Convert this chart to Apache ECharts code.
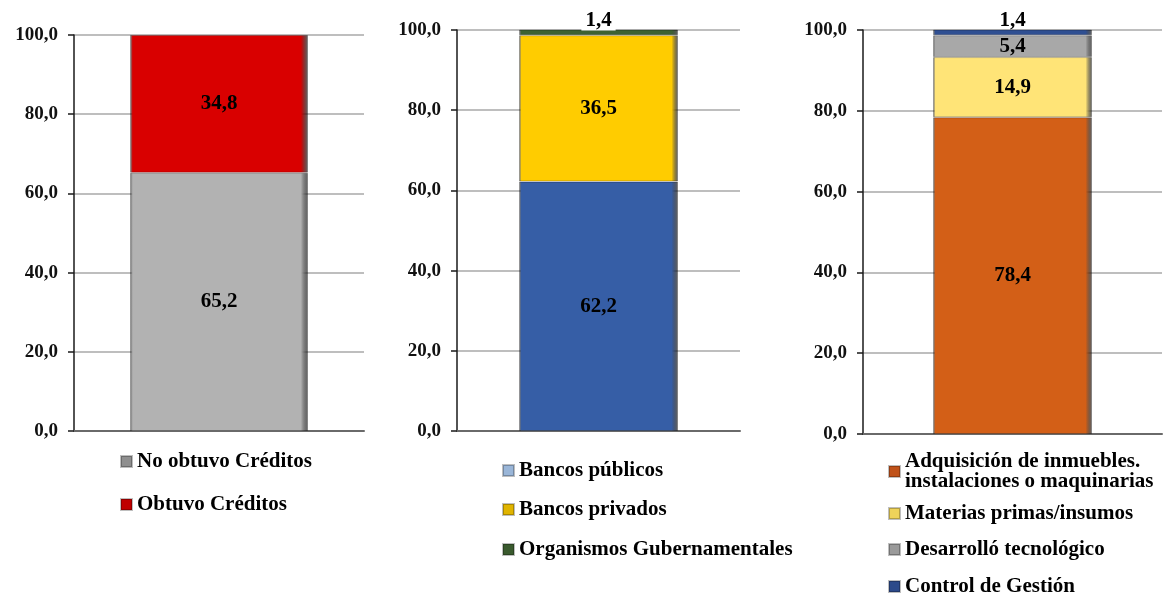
<!DOCTYPE html>
<html>
<head>
<meta charset="utf-8">
<script src="https://cdn.jsdelivr.net/npm/echarts@6/dist/echarts.min.js"></script>
<style>
  body { margin: 0; background: #fff; }
  #chart { width: 1172px; height: 596px; }
</style>
</head>
<body>
<div id="chart"></div>
<script>
// panel 1
var creditNames = ['No obtuvo Créditos', 'Obtuvo Créditos'];
var creditValues = [65.2, 34.8];
// panel 2
var sourceNames = ['Bancos públicos', 'Bancos privados', 'Organismos Gubernamentales'];
var sourceValues = [62.2, 36.5, 1.4];
// panel 3
var useNames = ['Adquisición de inmuebles.\ninstalaciones o maquinarias', 'Materias primas/insumos', 'Desarrolló tecnológico', 'Control de Gestión'];
var useValues = [78.4, 14.9, 5.4, 1.4];
var yTicks = [0, 20, 40, 60, 80, 100];

var FONT = 'Liberation Serif';

// bar colors / legend swatch colors
var creditColors = ['#b2b2b2', '#d90000'];
var creditSwatch = ['#8f8f8f', '#c00000'];
var sourceColors = ['#365ea6', '#ffcc00', '#3d6232'];
var sourceSwatch = ['#9ab6d8', '#e0b400', '#3a5a2e'];
var useColors = ['#d35f17', '#ffe477', '#a8a8a8', '#2f4f92'];
var useSwatch = ['#c0521a', '#efd35a', '#9a9a9a', '#2c4a8a'];

var grids = [
  { left: 74, top: 35, width: 290, height: 396 },
  { left: 457, top: 30, width: 283, height: 401 },
  { left: 863, top: 30, width: 299, height: 404 }
];
var barWidths = [178, 159, 159];

function fmt(v) { return v.toFixed(1).replace('.', ','); }

function shade(c) {
  return new echarts.graphic.LinearGradient(0, 0, 1, 0, [
    { offset: 0, color: 'rgba(0,0,0,0.35)' },
    { offset: 0.015, color: c },
    { offset: 0.96, color: c },
    { offset: 1, color: 'rgba(0,0,0,0.6)' }
  ]);
}

var series = [];
function addPanel(idx, names, values, colors) {
  names.forEach(function (n, i) {
    var small = values[i] < 3;
    series.push({
      name: n,
      type: 'bar',
      stack: 'p' + idx,
      xAxisIndex: idx,
      yAxisIndex: idx,
      barWidth: barWidths[idx],
      data: [values[i]],
      itemStyle: { color: shade(colors[i]), borderColor: 'rgba(0,0,0,0.25)', borderWidth: 1 },
      label: {
        show: true,
        position: small ? 'top' : 'inside',
        distance: -1,
        formatter: function (p) { return fmt(p.value); },
        fontFamily: FONT,
        fontWeight: 'bold',
        fontSize: 21,
        color: '#000',
        backgroundColor: small && idx === 1 ? '#fff' : 'transparent',
        padding: [0, 4]
      }
    });
  });
}
addPanel(0, creditNames, creditValues, creditColors);
addPanel(1, sourceNames, sourceValues, sourceColors);
addPanel(2, useNames, useValues, useColors);

var legends = [];
function addLegend(names, swatch, left, tops) {
  names.forEach(function (n, i) {
    legends.push({
      orient: 'vertical',
      left: left,
      top: tops[i],
      padding: 0,
      icon: 'rect',
      itemWidth: 11,
      itemHeight: 11,
      selectedMode: false,
      data: [{ name: n, itemStyle: { color: swatch[i] } }],
      textStyle: { fontFamily: FONT, fontWeight: 'bold', fontSize: 21, lineHeight: 20, color: '#000' }
    });
  });
}
addLegend(creditNames, creditSwatch, 120, [451, 494]);
addLegend(sourceNames, sourceSwatch, 502, [460, 499, 539]);
addLegend(useNames, useSwatch, 888, [451, 503, 539, 576]);

var xAxes = [], yAxes = [];
grids.forEach(function (g, i) {
  xAxes.push({
    type: 'category',
    gridIndex: i,
    data: [''],
    axisTick: { show: false },
    axisLabel: { show: false },
    axisLine: { show: true, lineStyle: { color: '#6a6a6a', width: 2 } }
  });
  yAxes.push({
    type: 'value',
    gridIndex: i,
    min: yTicks[0],
    max: yTicks[yTicks.length - 1],
    interval: yTicks[1] - yTicks[0],
    axisLine: { show: true, lineStyle: { color: '#1a1a1a', width: 1.5 } },
    axisTick: { show: true, length: 6, lineStyle: { color: '#1a1a1a', width: 1.5 } },
    splitLine: { lineStyle: { color: '#a8a8a8', width: 1.5 } },
    axisLabel: {
      margin: 16,
      fontFamily: FONT,
      fontWeight: 'bold',
      fontSize: 19,
      color: '#111',
      formatter: function (v) { return fmt(v); }
    }
  });
});

var chart = echarts.init(document.getElementById('chart'));
chart.setOption({
  animation: false,
  backgroundColor: '#fff',
  grid: grids,
  xAxis: xAxes,
  yAxis: yAxes,
  legend: legends,
  series: series
});
</script>
</body>
</html>
